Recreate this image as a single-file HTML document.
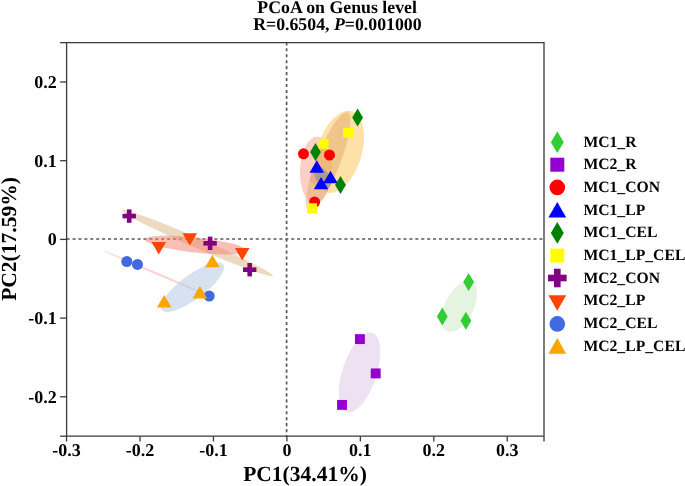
<!DOCTYPE html>
<html><head><meta charset="utf-8"><style>
html,body{margin:0;padding:0;background:#fff;}
body{width:685px;height:486px;overflow:hidden;}
svg{display:block;will-change:transform;text-rendering:geometricPrecision;}
</style></head><body>
<svg width="685" height="486" viewBox="0 0 685 486">
<line x1="66.6" y1="239.0" x2="544.0" y2="239.0" stroke="#5a5a5a" stroke-width="1.7" stroke-dasharray="3.1 2.81" />
<line x1="286.6" y1="42.3" x2="286.6" y2="436.2" stroke="#5a5a5a" stroke-width="1.7" stroke-dasharray="3.1 2.85" />
<ellipse cx="459.1" cy="306.5" rx="27.4" ry="14.4" transform="rotate(-63.3 459.1 306.5)" fill="rgb(203,233,195)" fill-opacity="0.5"/>
<ellipse cx="359.5" cy="372.5" rx="41.7" ry="17.1" transform="rotate(-72.0 359.5 372.5)" fill="rgb(221,197,229)" fill-opacity="0.5"/>
<ellipse cx="315.9" cy="170.3" rx="33.6" ry="15.9" transform="rotate(-87.8 315.9 170.3)" fill="rgb(249,161,137)" fill-opacity="0.5"/>
<ellipse cx="339.5" cy="151.8" rx="42.5" ry="22.2" transform="rotate(-73.0 339.5 151.8)" fill="rgb(253,193,83)" fill-opacity="0.5"/>
<ellipse cx="328.2" cy="161.5" rx="52.8" ry="11.9" transform="rotate(-68.5 328.2 161.5)" fill="rgb(228,172,107)" fill-opacity="0.5"/>
<ellipse cx="322.8" cy="177.5" rx="11.5" ry="6.8" transform="rotate(56.1 322.8 177.5)" fill="rgb(99,146,162)" fill-opacity="0.5"/>
<ellipse cx="197.5" cy="243.2" rx="82.2" ry="5.0" transform="rotate(23.5 197.5 243.2)" fill="rgb(217,181,129)" fill-opacity="0.5"/>
<ellipse cx="195.5" cy="245.0" rx="51.0" ry="7.6" transform="rotate(6.3 195.5 245.0)" fill="rgb(243,125,109)" fill-opacity="0.5"/>
<ellipse cx="157.8" cy="274.0" rx="59.4" ry="1.0" transform="rotate(23.2 157.8 274.0)" fill="rgb(245,150,150)" fill-opacity="0.42"/>
<ellipse cx="192.4" cy="287.2" rx="38.4" ry="12.2" transform="rotate(-36.5 192.4 287.2)" fill="rgb(173,197,225)" fill-opacity="0.5"/>
<defs><mask id="mE5" maskUnits="userSpaceOnUse" x="0" y="0" width="685" height="486"><ellipse cx="315.9" cy="170.3" rx="33.6" ry="15.9" transform="rotate(-87.8 315.9 170.3)" fill="#fff"/><ellipse cx="339.5" cy="151.8" rx="42.5" ry="22.2" transform="rotate(-73.0 339.5 151.8)" fill="#000"/></mask></defs>
<ellipse cx="328.2" cy="161.5" rx="52.8" ry="11.9" transform="rotate(-68.5 328.2 161.5)" fill="rgb(190,110,120)" fill-opacity="0.2" mask="url(#mE5)"/>
<polygon points="468.6,272.9 474.0,281.9 468.6,290.9 463.20000000000005,281.9" fill="#32cd32"/>
<polygon points="442.3,307.4 447.7,316.4 442.3,325.4 436.90000000000003,316.4" fill="#32cd32"/>
<polygon points="465.9,311.7 471.29999999999995,320.7 465.9,329.7 460.5,320.7" fill="#32cd32"/>
<rect x="354.95" y="334.15000000000003" width="9.9" height="9.9" fill="#9400d3"/>
<rect x="370.75" y="368.45" width="9.9" height="9.9" fill="#9400d3"/>
<rect x="337.05" y="399.95" width="9.9" height="9.9" fill="#9400d3"/>
<circle cx="303.5" cy="153.8" r="5.5" fill="#ff0000"/>
<circle cx="329.5" cy="155.0" r="5.5" fill="#ff0000"/>
<circle cx="314.6" cy="202.0" r="5.5" fill="#ff0000"/>
<polygon points="316.8,160.3 324.1,172.7 309.5,172.7" fill="#0000ff"/>
<polygon points="330.5,170.8 337.8,183.2 323.2,183.2" fill="#0000ff"/>
<polygon points="321.1,176.9 328.40000000000003,189.29999999999998 313.8,189.29999999999998" fill="#0000ff"/>
<polygon points="357.6,108.6 363.0,117.6 357.6,126.6 352.20000000000005,117.6" fill="#008000"/>
<polygon points="315.5,143.0 320.9,152.0 315.5,161.0 310.1,152.0" fill="#008000"/>
<polygon points="340.5,176.1 345.9,185.1 340.5,194.1 335.1,185.1" fill="#008000"/>
<rect x="343.05" y="127.85000000000001" width="9.9" height="9.9" fill="#ffff00"/>
<rect x="318.65000000000003" y="138.95000000000002" width="9.9" height="9.9" fill="#ffff00"/>
<rect x="307.05" y="203.25" width="9.9" height="9.9" fill="#ffff00"/>
<rect x="122.49999999999999" y="213.79999999999998" width="13.4" height="4.6" fill="#800080"/><rect x="126.89999999999999" y="209.4" width="4.6" height="13.4" fill="#800080"/>
<rect x="203.4" y="241.0" width="13.4" height="4.6" fill="#800080"/><rect x="207.79999999999998" y="236.60000000000002" width="4.6" height="13.4" fill="#800080"/>
<rect x="243.0" y="267.4" width="13.4" height="4.6" fill="#800080"/><rect x="247.39999999999998" y="263.0" width="4.6" height="13.4" fill="#800080"/>
<polygon points="158.8,254.39999999999998 166.10000000000002,242.0 151.5,242.0" fill="#ff4500"/>
<polygon points="189.8,245.6 197.10000000000002,233.20000000000002 182.5,233.20000000000002" fill="#ff4500"/>
<polygon points="242.2,260.5 249.5,248.10000000000002 234.89999999999998,248.10000000000002" fill="#ff4500"/>
<circle cx="126.8" cy="261.5" r="5.5" fill="#4169e1"/>
<circle cx="137.5" cy="264.4" r="5.5" fill="#4169e1"/>
<circle cx="209.2" cy="296.1" r="5.5" fill="#4169e1"/>
<polygon points="164.2,295.1 171.5,307.5 156.89999999999998,307.5" fill="#ffa500"/>
<polygon points="199.9,286.0 207.20000000000002,298.4 192.6,298.4" fill="#ffa500"/>
<polygon points="212.4,254.8 219.70000000000002,267.2 205.1,267.2" fill="#ffa500"/>
<path d="M66.6 42.65 H544.0 V436.2 H66.6 Z" fill="none" stroke="#3a3a3a" stroke-width="1.3"/>
<line x1="60.1" y1="42.65" x2="66.6" y2="42.65" stroke="#3a3a3a" stroke-width="1.3"/>
<line x1="60.1" y1="436.2" x2="66.6" y2="436.2" stroke="#3a3a3a" stroke-width="1.3"/>
<line x1="544.0" y1="436.2" x2="544.0" y2="441.5" stroke="#3a3a3a" stroke-width="1.3"/>
<line x1="66.55" y1="436.2" x2="66.55" y2="441.5" stroke="#3a3a3a" stroke-width="1.3"/>
<text x="66.55" y="455.8" text-anchor="middle" style="font-family:'Liberation Serif',serif;font-weight:bold;font-size:18px" fill="#000">-0.3</text>
<line x1="140.00" y1="436.2" x2="140.00" y2="441.5" stroke="#3a3a3a" stroke-width="1.3"/>
<text x="140.00" y="455.8" text-anchor="middle" style="font-family:'Liberation Serif',serif;font-weight:bold;font-size:18px" fill="#000">-0.2</text>
<line x1="213.45" y1="436.2" x2="213.45" y2="441.5" stroke="#3a3a3a" stroke-width="1.3"/>
<text x="213.45" y="455.8" text-anchor="middle" style="font-family:'Liberation Serif',serif;font-weight:bold;font-size:18px" fill="#000">-0.1</text>
<line x1="286.90" y1="436.2" x2="286.90" y2="441.5" stroke="#3a3a3a" stroke-width="1.3"/>
<text x="286.90" y="455.8" text-anchor="middle" style="font-family:'Liberation Serif',serif;font-weight:bold;font-size:18px" fill="#000">0</text>
<line x1="360.35" y1="436.2" x2="360.35" y2="441.5" stroke="#3a3a3a" stroke-width="1.3"/>
<text x="360.35" y="455.8" text-anchor="middle" style="font-family:'Liberation Serif',serif;font-weight:bold;font-size:18px" fill="#000">0.1</text>
<line x1="433.80" y1="436.2" x2="433.80" y2="441.5" stroke="#3a3a3a" stroke-width="1.3"/>
<text x="433.80" y="455.8" text-anchor="middle" style="font-family:'Liberation Serif',serif;font-weight:bold;font-size:18px" fill="#000">0.2</text>
<line x1="507.25" y1="436.2" x2="507.25" y2="441.5" stroke="#3a3a3a" stroke-width="1.3"/>
<text x="507.25" y="455.8" text-anchor="middle" style="font-family:'Liberation Serif',serif;font-weight:bold;font-size:18px" fill="#000">0.3</text>
<line x1="60.1" y1="82.00" x2="66.6" y2="82.00" stroke="#3a3a3a" stroke-width="1.3"/>
<text x="56.8" y="88.00" text-anchor="end" style="font-family:'Liberation Serif',serif;font-weight:bold;font-size:18px" fill="#000">0.2</text>
<line x1="60.1" y1="160.70" x2="66.6" y2="160.70" stroke="#3a3a3a" stroke-width="1.3"/>
<text x="56.8" y="166.70" text-anchor="end" style="font-family:'Liberation Serif',serif;font-weight:bold;font-size:18px" fill="#000">0.1</text>
<line x1="60.1" y1="239.40" x2="66.6" y2="239.40" stroke="#3a3a3a" stroke-width="1.3"/>
<text x="56.8" y="245.40" text-anchor="end" style="font-family:'Liberation Serif',serif;font-weight:bold;font-size:18px" fill="#000">0</text>
<line x1="60.1" y1="318.10" x2="66.6" y2="318.10" stroke="#3a3a3a" stroke-width="1.3"/>
<text x="56.8" y="324.10" text-anchor="end" style="font-family:'Liberation Serif',serif;font-weight:bold;font-size:18px" fill="#000">-0.1</text>
<line x1="60.1" y1="396.80" x2="66.6" y2="396.80" stroke="#3a3a3a" stroke-width="1.3"/>
<text x="56.8" y="402.80" text-anchor="end" style="font-family:'Liberation Serif',serif;font-weight:bold;font-size:18px" fill="#000">-0.2</text>
<text x="305" y="480.8" text-anchor="middle" style="font-family:'Liberation Serif',serif;font-weight:bold;font-size:21.5px" fill="#000">PC1(34.41%)</text>
<text transform="translate(16.2 239) rotate(-90)" x="0" y="0" text-anchor="middle" style="font-family:'Liberation Serif',serif;font-weight:bold;font-size:21.5px" fill="#000">PC2(17.59%)</text>
<text x="337.1" y="12.9" text-anchor="middle" style="font-family:'Liberation Serif',serif;font-weight:bold;font-size:17.8px" fill="#000">PCoA on Genus level</text>
<text x="337.4" y="29.7" text-anchor="middle" style="font-family:'Liberation Serif',serif;font-weight:bold;font-size:17.8px" fill="#000">R=0.6504, <tspan font-style="italic">P</tspan>=0.001000</text>
<polygon points="557.3,131.5 563.75,142.3 557.3,153.10000000000002 550.8499999999999,142.3" fill="#32cd32"/>
<text x="583.4" y="146.60" style="font-family:'Liberation Serif',serif;font-weight:bold;font-size:15.7px" fill="#000">MC1_R</text>
<rect x="550.3" y="157.7" width="14.0" height="14.0" fill="#9400d3"/>
<text x="583.4" y="169.27" style="font-family:'Liberation Serif',serif;font-weight:bold;font-size:15.7px" fill="#000">MC2_R</text>
<circle cx="557.3" cy="187.4" r="7.8" fill="#ff0000"/>
<text x="583.4" y="191.94" style="font-family:'Liberation Serif',serif;font-weight:bold;font-size:15.7px" fill="#000">MC1_CON</text>
<polygon points="557.3,202.0 566.1999999999999,217.60000000000002 548.4,217.60000000000002" fill="#0000ff"/>
<text x="583.4" y="214.61" style="font-family:'Liberation Serif',serif;font-weight:bold;font-size:15.7px" fill="#000">MC1_LP</text>
<polygon points="557.3,222.1 563.75,232.9 557.3,243.70000000000002 550.8499999999999,232.9" fill="#008000"/>
<text x="583.4" y="237.28" style="font-family:'Liberation Serif',serif;font-weight:bold;font-size:15.7px" fill="#000">MC1_CEL</text>
<rect x="550.3" y="248.6" width="14.0" height="14.0" fill="#ffff00"/>
<text x="583.4" y="259.95" style="font-family:'Liberation Serif',serif;font-weight:bold;font-size:15.7px" fill="#000">MC1_LP_CEL</text>
<rect x="548.0" y="274.7" width="18.6" height="6.6" fill="#800080"/><rect x="554.0" y="268.7" width="6.6" height="18.6" fill="#800080"/>
<text x="583.4" y="282.62" style="font-family:'Liberation Serif',serif;font-weight:bold;font-size:15.7px" fill="#000">MC2_CON</text>
<polygon points="557.3,310.8 566.1999999999999,295.2 548.4,295.2" fill="#ff4500"/>
<text x="583.4" y="305.29" style="font-family:'Liberation Serif',serif;font-weight:bold;font-size:15.7px" fill="#000">MC2_LP</text>
<circle cx="557.3" cy="323.9" r="7.8" fill="#4169e1"/>
<text x="583.4" y="327.96" style="font-family:'Liberation Serif',serif;font-weight:bold;font-size:15.7px" fill="#000">MC2_CEL</text>
<polygon points="557.3,338.09999999999997 566.1999999999999,353.7 548.4,353.7" fill="#ffa500"/>
<text x="583.4" y="350.63" style="font-family:'Liberation Serif',serif;font-weight:bold;font-size:15.7px" fill="#000">MC2_LP_CEL</text>
</svg>
</body></html>
